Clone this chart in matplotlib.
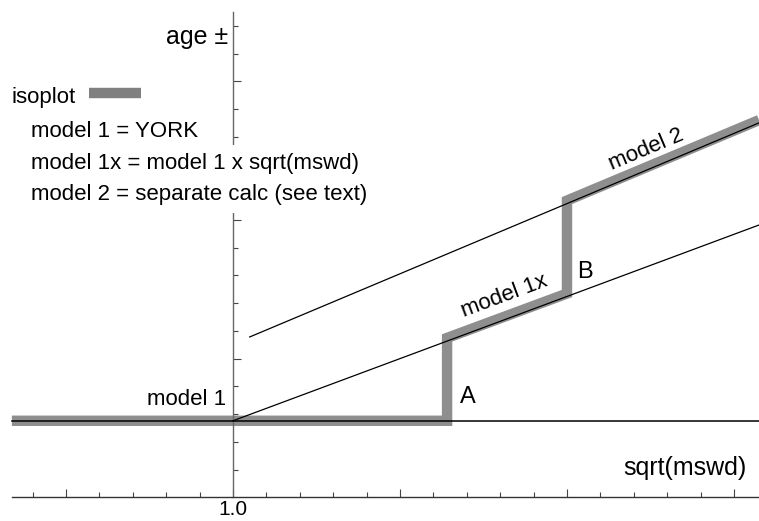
import numpy as np
import matplotlib
matplotlib.use("Agg")
import matplotlib.pyplot as plt
from matplotlib.ticker import FixedLocator, FixedFormatter

plt.rcParams['font.family'] = ['Liberation Sans', 'DejaVu Sans']

# values (x = sqrt(mswd), y = age +/- in arbitrary units)
x_model1 = [0.338, 2.575]
y_model1 = [0.553, 0.553]

x_model1x = [1.0, 2.575]
y_model1x = [0.553, 1.964]

x_model2 = [1.05, 2.575]
y_model2 = [1.157, 2.70]

# isoplot step path: model 1 -> jump at A to model 1x -> jump at B to model 2
x_isoplot = [0.338, 1.641, 1.641, 2.0, 2.0, 2.575]
y_isoplot = [0.553, 0.553, 1.15, 1.47, 2.14, 2.72]

x_major_ticks = [0.5, 1.0, 1.5, 2.0, 2.5]
x_tick_labels = ['', '1.0', '', '', '']
x_minor_ticks = [0.4, 0.6, 0.7, 0.8, 0.9, 1.1, 1.2, 1.3, 1.4, 1.6, 1.7, 1.8, 1.9,
                 2.1, 2.2, 2.3, 2.4]
y_major_ticks = [1, 2, 3]
y_minor_ticks = [0.2, 0.4, 0.6, 0.8, 1.2, 1.4, 1.6, 1.8, 2.2, 2.4, 2.6, 2.8,
                 3.2, 3.4]

legend_lines = ["model 1 = YORK",
                "model 1x = model 1 x sqrt(mswd)",
                "model 2 = separate calc (see text)"]

gray = '#8e8e8e'

fig = plt.figure(figsize=(7.59, 5.21), dpi=100)
ax = fig.add_axes([0, 0, 1, 1])
ax.set_xlim(0.3024, 2.5749)
ax.set_ylim(-0.1694, 3.5856)

# thick gray isoplot path
ax.plot(x_isoplot, y_isoplot, color=gray, lw=7.5, solid_joinstyle='miter',
        solid_capstyle='butt', zorder=2)

# thin model lines
ax.plot(x_model1, y_model1, color='black', lw=1.1, zorder=3)
ax.plot(x_model1x, y_model1x, color='black', lw=0.9, zorder=3)
ax.plot(x_model2, y_model2, color='black', lw=0.9, zorder=3)

# axes crossing at (1.0, 0)
for s in ['top', 'right']:
    ax.spines[s].set_visible(False)
ax.spines['left'].set_position(('data', 1.0))
ax.spines['bottom'].set_position(('data', 0.0))
ax.spines['left'].set_bounds(0, 3.5)
ax.spines['bottom'].set_bounds(0.338, 2.575)
ax.spines['left'].set_color('#666666')
ax.spines['bottom'].set_color('#333333')
ax.spines['left'].set_linewidth(1.0)
ax.spines['bottom'].set_linewidth(1.0)

ax.xaxis.set_major_locator(FixedLocator(x_major_ticks))
ax.xaxis.set_major_formatter(FixedFormatter(x_tick_labels))
ax.xaxis.set_minor_locator(FixedLocator(x_minor_ticks))
ax.yaxis.set_major_locator(FixedLocator(y_major_ticks))
ax.yaxis.set_minor_locator(FixedLocator(y_minor_ticks))
ax.yaxis.set_major_formatter(FixedFormatter(['', '', '']))
ax.tick_params(which='both', direction='in', color='#444444', width=0.8)
ax.tick_params(which='major', length=6)
ax.tick_params(which='minor', length=3.6)
ax.tick_params(axis='x', labelsize=15, pad=1.5)

# axis labels
ax.text(0.985, 3.319, "age \u00b1", ha='right', va='center', fontsize=18)
ax.text(2.539, 0.213, "sqrt(mswd)", ha='right', va='center', fontsize=18)

# legend block
ax.text(0.338, 2.886, "isoplot", ha='left', va='center', fontsize=16)
ax.plot([0.569, 0.725], [2.912, 2.912], color='#808080', lw=7.5,
        solid_capstyle='butt')
legend_y = [2.641, 2.404, 2.187]
for txt, yy in zip(legend_lines, legend_y):
    ax.text(0.395, yy, txt, ha='left', va='center', fontsize=16, zorder=5,
            bbox=dict(facecolor='white', edgecolor='none', pad=6))

# curve labels
ax.text(0.979, 0.703, "model 1", ha='right', va='center', fontsize=16)
ax.text(1.680, 0.724, "A", ha='left', va='center', fontsize=17)
ax.text(2.030, 1.625, "B", ha='left', va='center', fontsize=17)

slope1x = (y_model1x[1] - y_model1x[0]) / (x_model1x[1] - x_model1x[0])
slope2 = (y_model2[1] - y_model2[0]) / (x_model2[1] - x_model2[0])
ang1x = ax.transData.transform_angles(np.array([np.degrees(np.arctan(slope1x))]),
                                      np.array([[1.8, 1.45]]))[0]
ang2 = ax.transData.transform_angles(np.array([np.degrees(np.arctan(slope2))]),
                                     np.array([[2.2, 2.5]]))[0]
ax.text(1.814, 1.452, "model 1x", ha='center', va='center', fontsize=16,
        rotation=ang1x, rotation_mode='anchor')
ax.text(2.237, 2.505, "model 2", ha='center', va='center', fontsize=16,
        rotation=ang2, rotation_mode='anchor')

fig.savefig("out.png", dpi=100)
